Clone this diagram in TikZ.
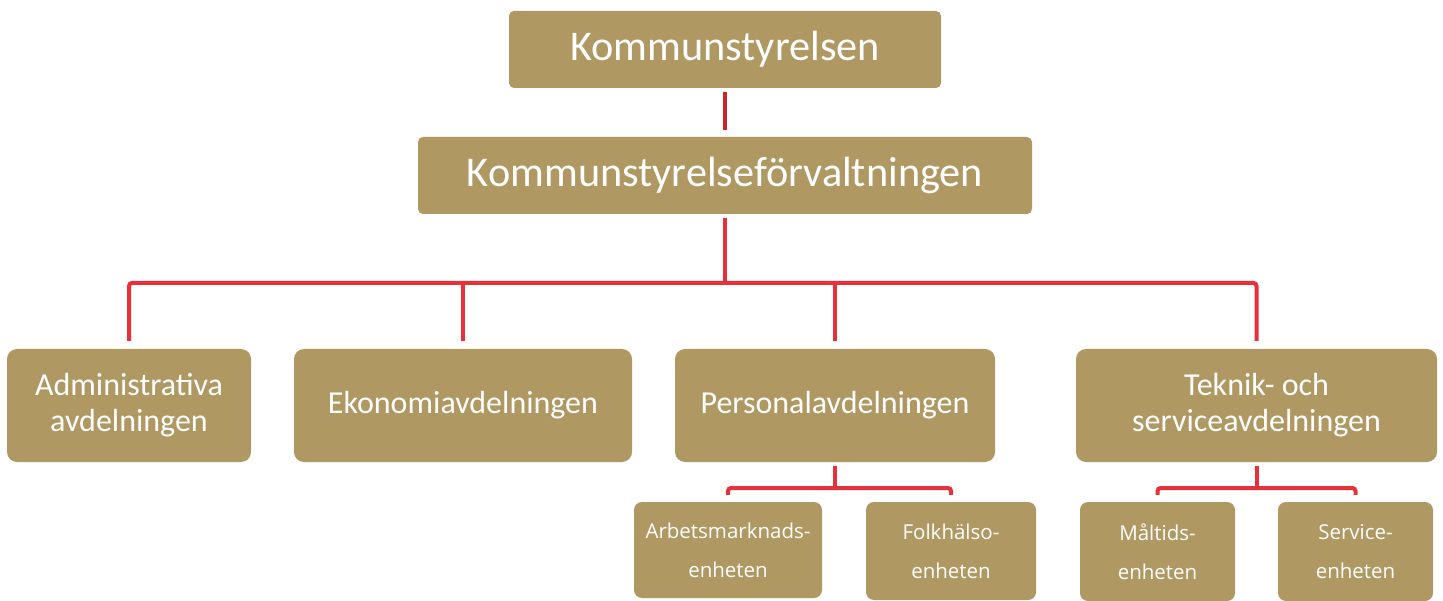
\documentclass[tikz,border=0pt]{standalone}
\usepackage{fontspec}
\setmainfont{Carlito}
\newfontfamily\smallfam{Open Sans}
\usetikzlibrary{calc}
\definecolor{boxtan}{HTML}{AF9862}
\definecolor{linkred}{HTML}{E8303A}
\definecolor{toplink}{HTML}{CC2229}
\begin{document}
\begin{tikzpicture}[x=1pt,y=-1pt,
  orgbox/.style={fill=boxtan,text=white,align=center,inner sep=0pt,rounded corners=5pt},
  bigbox/.style={orgbox,font=\fontsize{42.3}{50}\selectfont},
  midbox/.style={orgbox,rounded corners=10pt,font=\fontsize{32}{36}\selectfont},
  subbox/.style={orgbox,rounded corners=8pt,font=\smallfam\fontsize{20.5}{39}\selectfont},
  link/.style={draw=linkred,line width=4pt,rounded corners=3pt},
]
\useasboundingbox (0,0) rectangle (1443,601);
\node[bigbox,minimum width=432pt,minimum height=77pt] (ks) at (725,49.5) {Kommunstyrelsen};
\node[bigbox,minimum width=614pt,minimum height=77pt] (ksf) at (725,175.5) {Kommunstyrelseförvaltningen};
\node[midbox,minimum width=244pt,minimum height=113pt] (adm) at (129,405.5) {Administrativa\\avdelningen};
\node[midbox,minimum width=338pt,minimum height=113pt] (eko) at (463,405.5) {Ekonomiavdelningen};
\node[midbox,minimum width=320pt,minimum height=113pt] (per) at (835,405.5) {Personalavdelningen};
\node[midbox,minimum width=361pt,minimum height=113pt] (tek) at (1256.5,405.5) {Teknik- och\\serviceavdelningen};
\node[subbox,minimum width=188pt,minimum height=96pt] (arb) at (728,550) {Arbetsmarknads-\\enheten};
\node[subbox,minimum width=170pt,minimum height=98pt] (folk) at (951,551) {Folkhälso-\\enheten};
\node[subbox,minimum width=155pt,minimum height=99pt] (malt) at (1157.5,551.5) {Måltids-\\enheten};
\node[subbox,minimum width=155pt,minimum height=99pt] (serv) at (1355.5,551.5) {Service-\\enheten};
% connectors
\draw[link,draw=toplink] ($(ks.south)+(0,4)$) -- ($(ksf.north)+(0,-7)$);
\coordinate (bus) at (0,283);
\draw[link] ($(ksf.south)+(0,4)$) -- (ksf.south |- bus);
\draw[link] ($(adm.north)+(0,-8)$) -- (adm.north |- bus) -- (tek.north |- bus) -- ($(tek.north)+(0,-8)$);
\draw[link] ($(eko.north)+(0,-8)$) -- (eko.north |- bus);
\draw[link] ($(per.north)+(0,-8)$) -- (per.north |- bus);
\coordinate (bus2) at (0,488);
\draw[link] ($(per.south)+(0,4)$) -- (per.south |- bus2);
\draw[link] ($(arb.north)+(0,-7)$) -- (arb.north |- bus2) -- (folk.north |- bus2) -- ($(folk.north)+(0,-7)$);
\draw[link] ($(tek.south)+(0,4)$) -- (tek.south |- bus2);
\draw[link] ($(malt.north)+(0,-7)$) -- (malt.north |- bus2) -- (serv.north |- bus2) -- ($(serv.north)+(0,-7)$);
\end{tikzpicture}
\end{document}
